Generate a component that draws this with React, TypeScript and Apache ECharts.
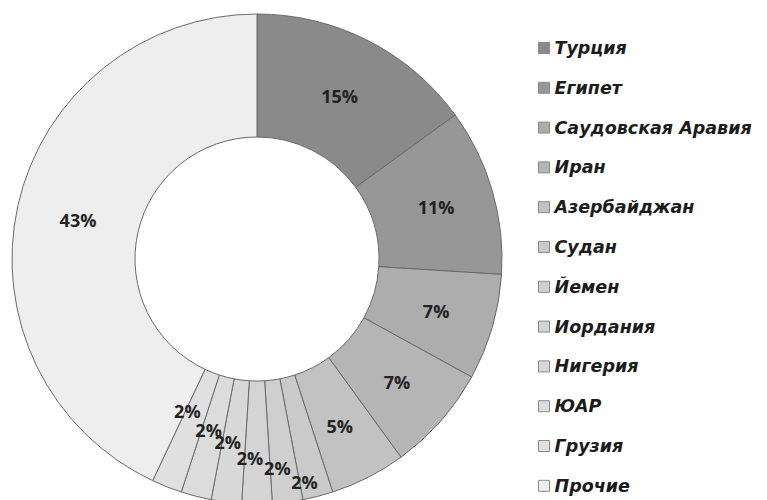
import React, { useEffect, useRef } from "react";
import * as echarts from "echarts";

const categories = [
  "Турция",
  "Египет",
  "Саудовская Аравия",
  "Иран",
  "Азербайджан",
  "Судан",
  "Йемен",
  "Иордания",
  "Нигерия",
  "ЮАР",
  "Грузия",
  "Прочие",
];
const shares = [15, 11, 7, 7, 5, 2, 2, 2, 2, 2, 2, 43];

const sliceColors = [
  "#8a8a8a",
  "#979797",
  "#adadad",
  "#b5b5b5",
  "#c2c2c2",
  "#cacaca",
  "#cfcfcf",
  "#d4d4d4",
  "#d8d8d8",
  "#dcdcdc",
  "#e0e0e0",
  "#eeeeee",
];

// label nudges (px) reproducing the staggered small-slice labels
const labelDx = [-2, 0, 0, 0, -2, 1, -3, -7, -6, -2, -1, 3];
const labelDy = [3, 0, 0, 0, 1, 42, 24, 12, -2, -10, -21, 2];

export default function App() {
  const ref = useRef<HTMLDivElement>(null);

  useEffect(() => {
    if (!ref.current) return;
    const chart = echarts.init(ref.current, undefined, { renderer: "svg" });
    chart.setOption({
      animation: false,
      backgroundColor: "#ffffff",
      legend: {
        orient: "vertical",
        left: 538,
        top: 38,
        height: 470,
        padding: 0,
        icon: "rect",
        itemWidth: 11,
        itemHeight: 11,
        itemGap: 19.8,
        data: categories,
        itemStyle: { borderColor: "#8a8a8a", borderWidth: 1 },
        textStyle: {
          fontFamily: "DejaVu Sans",
          fontWeight: "bold",
          fontStyle: "italic",
          fontSize: 17.5,
          lineHeight: 20,
          color: "#1c1c1c",
        },
      },
      series: [
        {
          type: "pie",
          center: [257, 259],
          radius: [122, 245],
          startAngle: 90,
          clockwise: true,
          avoidLabelOverlap: false,
          data: categories.map((name, i) => ({
            name,
            value: shares[i],
            itemStyle: { color: sliceColors[i] },
          })),
          itemStyle: {
            borderColor: "#6a6a6a",
            borderWidth: 1,
          },
          label: {
            show: true,
            position: "inside",
            formatter: "{c}%",
            fontFamily: "Open Sans",
            fontWeight: "bold",
            fontSize: 18,
            color: "#222222",
          },
          labelLine: { show: false },
          labelLayout: (params: any) => ({
            dx: labelDx[params.dataIndex],
            dy: labelDy[params.dataIndex],
          }),
          emphasis: { disabled: true },
        },
      ],
    });
    return () => chart.dispose();
  }, []);

  return (
    <div
      ref={ref}
      style={{ position: "fixed", left: 0, top: 0, width: 767, height: 500 }}
    />
  );
}
